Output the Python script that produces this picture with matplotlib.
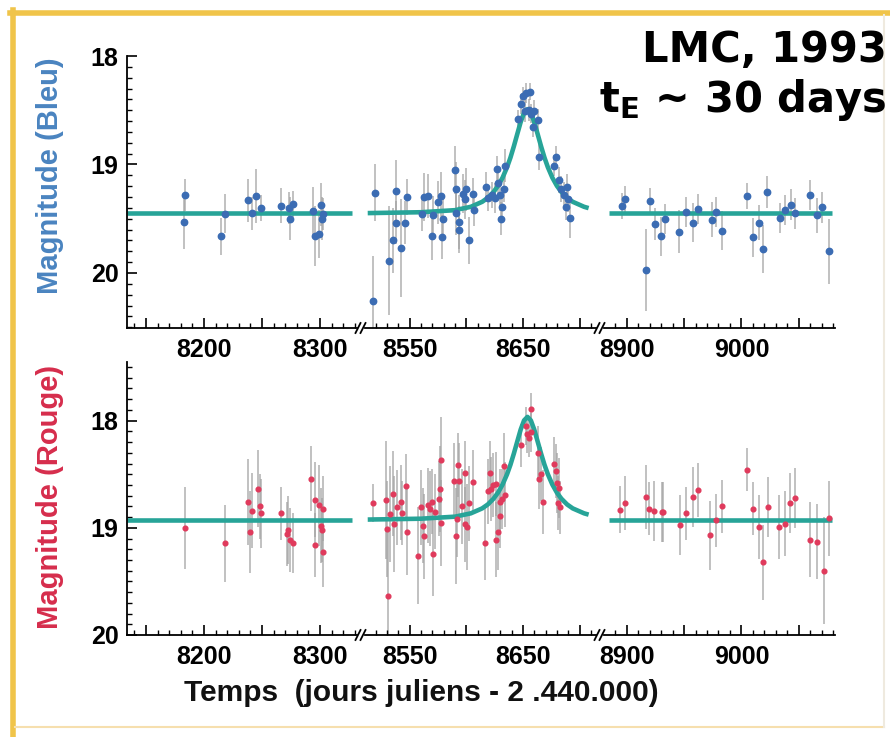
import matplotlib
matplotlib.use("Agg")
import matplotlib.pyplot as plt
from matplotlib.lines import Line2D
from matplotlib.ticker import FixedLocator, MultipleLocator, FuncFormatter

# ---------------- data ----------------
# Blue band observations: day (JD - 2440000), magnitude, error
blue_day = [8184, 8183, 8215, 8218.5, 8238, 8241, 8244.6, 8249, 8266, 8273, 8274.5, 8277,
            8294, 8295.4, 8299, 8300.6, 8302.6, 8302,
            8517.6, 8519, 8532, 8535.5, 8538, 8538.4, 8542.5, 8546, 8547.6, 8561, 8563, 8566.5,
            8569.4, 8571, 8575, 8577.5, 8579, 8579.5, 8590, 8590.6, 8591, 8593.5, 8594, 8597,
            8598.7, 8600, 8602, 8606, 8606.5, 8617, 8619.6, 8622.5, 8625.4, 8627, 8628, 8629.7,
            8630.6, 8631.7, 8633.5, 8634.6, 8645.7, 8648, 8650, 8651.5, 8653, 8656, 8655, 8657,
            8658.7, 8660, 8663, 8664.5, 8677, 8679, 8682, 8684, 8686, 8688.5, 8690, 8691.5, 8687.6,
            8895.7, 8899, 8917, 8920, 8925, 8930, 8933, 8946, 8952, 8958, 8962, 8974, 8978, 8983.5,
            9004.5, 9009.7, 9015, 9019, 9022, 9034, 9037.6, 9043, 9047, 9060, 9066, 9070, 9076]
blue_mag = [19.28, 19.53, 19.66, 19.455, 19.33, 19.45, 19.29, 19.40, 19.38, 19.40, 19.50, 19.36,
            19.43, 19.66, 19.64, 19.37, 19.455, 19.50,
            20.26, 19.26, 19.885, 19.70, 19.24, 19.535, 19.77, 19.535, 19.30, 19.46, 19.30, 19.29,
            19.66, 19.47, 19.35, 19.29, 19.67, 19.50, 19.05, 19.23, 19.45, 19.53, 19.60, 19.27,
            19.32, 19.23, 19.70, 19.27, 19.42, 19.21, 19.31, 19.28, 19.31, 19.04, 19.17, 19.28,
            19.50, 19.39, 19.23, 19.01, 18.58, 18.44, 18.37, 18.51, 18.34, 18.33, 18.50, 18.53,
            18.65, 18.51, 18.59, 18.93, 19.01, 18.93, 19.14, 19.23, 19.28, 19.21, 19.32, 19.495, 19.39,
            19.38, 19.32, 19.97, 19.34, 19.55, 19.66, 19.50, 19.62, 19.44, 19.535, 19.41, 19.51, 19.44, 19.61,
            19.29, 19.67, 19.535, 19.78, 19.255, 19.495, 19.42, 19.37, 19.45, 19.28, 19.47, 19.395, 19.80]
blue_err = [0.15, 0.25, 0.17, 0.18, 0.20, 0.15, 0.25, 0.12, 0.16, 0.15, 0.20, 0.12,
            0.22, 0.28, 0.22, 0.20, 0.15, 0.20,
            0.42, 0.26, 0.50, 0.30, 0.28, 0.20, 0.45, 0.20, 0.17, 0.15, 0.22, 0.20,
            0.22, 0.18, 0.20, 0.22, 0.20, 0.18, 0.22, 0.25, 0.20, 0.25, 0.22, 0.18,
            0.18, 0.20, 0.22, 0.15, 0.15, 0.14, 0.12, 0.12, 0.14, 0.12, 0.15, 0.15,
            0.15, 0.14, 0.12, 0.15, 0.08, 0.09, 0.08, 0.10, 0.09, 0.08, 0.10, 0.09,
            0.10, 0.10, 0.10, 0.12, 0.10, 0.10, 0.12, 0.12, 0.12, 0.12, 0.12, 0.18, 0.12,
            0.12, 0.12, 0.38, 0.12, 0.15, 0.18, 0.14, 0.20, 0.14, 0.18, 0.14, 0.16, 0.14, 0.18,
            0.12, 0.18, 0.16, 0.22, 0.15, 0.14, 0.14, 0.14, 0.14, 0.14, 0.16, 0.14, 0.30]

# Red band observations
red_day = [8184, 8218.5, 8238, 8241, 8240, 8246.6, 8248, 8249, 8266, 8271.6, 8272.8, 8274.5, 8277,
           8292, 8295.4, 8295.9, 8299, 8301, 8302.6, 8301.7, 8302.2,
           8518, 8529, 8530, 8530.5, 8532.6, 8535.5, 8536, 8539, 8542, 8543.6, 8546.5, 8548,
           8557.5, 8560.4, 8561.6, 8563, 8566, 8568, 8570, 8571, 8572.6, 8576, 8576.7, 8577.5,
           8578, 8589, 8590.6, 8591.5, 8593, 8593.5, 8596, 8598.7, 8599, 8601, 8602.8, 8605.7,
           8616.7, 8619.6, 8621, 8622, 8624, 8626, 8626.5, 8627.7, 8629.7, 8630, 8631.7, 8633.5,
           8634, 8648, 8653, 8653.7, 8655, 8657, 8656.7, 8663, 8664.5, 8666, 8667.4, 8677, 8679,
           8680, 8682, 8681, 8683,
           8894, 8899, 8917, 8919.4, 8924, 8931, 8932, 8946.4, 8952, 8958, 8962, 8973, 8978,
           8983.5, 9005, 9010.5, 9015, 9019, 9023, 9033, 9037.6, 9042.5, 9046.7, 9060, 9066,
           9071.5, 9076.7]
red_mag = [19.00, 19.145, 18.76, 18.84, 19.04, 18.635, 18.80, 18.865, 18.865, 19.06, 19.02, 19.115, 19.14,
           18.54, 18.74, 19.16, 18.79, 18.98, 18.82, 19.02, 19.23,
           18.77, 18.74, 19.01, 19.64, 18.87, 18.68, 18.965, 18.81, 18.76, 18.86, 18.61, 19.04,
           19.26, 18.81, 18.98, 19.08, 18.79, 18.82, 18.755, 19.24, 18.85, 18.73, 18.64, 18.955,
           18.37, 18.56, 19.075, 18.92, 18.415, 18.56, 18.80, 18.49, 18.965, 18.99, 18.77, 18.57,
           19.14, 18.66, 18.49, 18.64, 18.60, 18.59, 19.11, 19.04, 18.755, 18.89, 18.73, 18.42,
           18.69, 18.23, 18.05, 18.125, 18.16, 17.89, 18.11, 18.30, 18.54, 18.50, 18.76, 18.40, 18.47,
           18.58, 18.63, 18.77, 18.81,
           18.83, 18.77, 18.71, 18.82, 18.84, 18.855, 18.855, 18.97, 18.865, 18.71, 18.645, 19.07, 18.93,
           18.80, 18.46, 18.82, 18.99, 19.32, 18.81, 18.99, 18.96, 18.77, 18.72, 19.11, 19.13,
           19.40, 18.91]
red_err = [0.38, 0.36, 0.40, 0.35, 0.38, 0.36, 0.30, 0.32, 0.25, 0.30, 0.32, 0.30, 0.28,
           0.30, 0.35, 0.30, 0.38, 0.35, 0.30, 0.30, 0.32,
           0.18, 0.55, 0.45, 0.60, 0.45, 0.40, 0.45, 0.35, 0.35, 0.30, 0.30, 0.40,
           0.45, 0.35, 0.35, 0.40, 0.35, 0.35, 0.30, 0.40, 0.35, 0.35, 0.40, 0.40,
           0.40, 0.35, 0.45, 0.35, 0.30, 0.35, 0.35, 0.30, 0.35, 0.40, 0.35, 0.30,
           0.35, 0.30, 0.30, 0.30, 0.30, 0.30, 0.35, 0.35, 0.30, 0.30, 0.28, 0.30,
           0.30, 0.20, 0.18, 0.18, 0.18, 0.15, 0.18, 0.25, 0.28, 0.25, 0.30, 0.25, 0.25,
           0.28, 0.28, 0.25, 0.25,
           0.22, 0.25, 0.30, 0.25, 0.28, 0.28, 0.28, 0.28, 0.25, 0.28, 0.25, 0.32, 0.25,
           0.25, 0.20, 0.25, 0.30, 0.35, 0.28, 0.30, 0.30, 0.28, 0.28, 0.35, 0.35,
           0.50, 0.35]

# Fitted microlensing light curve
fit_day = [8513, 8560, 8590, 8604, 8614, 8619, 8624, 8628, 8632, 8636, 8639, 8642, 8645, 8648,
           8651, 8654, 8657, 8660, 8663, 8666, 8669, 8672, 8676, 8680, 8684, 8689, 8694, 8704, 8708]
blue_fit = [19.448, 19.440, 19.421, 19.390, 19.344, 19.307, 19.254, 19.197, 19.122, 19.025,
            18.936, 18.832, 18.720, 18.609, 18.523, 18.490, 18.523, 18.609, 18.720, 18.832,
            18.936, 19.025, 19.122, 19.197, 19.254, 19.307, 19.344, 19.390, 19.402]
red_fit = [18.923, 18.915, 18.896, 18.865, 18.819, 18.782, 18.729, 18.672, 18.597, 18.500,
           18.411, 18.307, 18.195, 18.084, 17.998, 17.965, 17.998, 18.084, 18.195, 18.307,
           18.411, 18.500, 18.597, 18.672, 18.729, 18.782, 18.819, 18.865, 18.877]
flat_day_1 = [8134, 8328]
flat_day_3 = [8885, 9079]
blue_base = 19.45
red_base = 18.925

# Axis segments
seg_xlim = [(8133.6, 8331.9), (8510.6, 8714.5), (8880.3, 9081.5)]
seg_major = [[8150, 8200, 8250, 8300], [8550, 8600, 8650, 8700], [8900, 8950, 9000, 9050]]
seg_labels = [[8200, 8300], [8550, 8650], [8900, 9000]]
y_ticks = [18, 19, 20]

# ---------------- figure ----------------
W, H = 890, 737
fig = plt.figure(figsize=(W / 100, H / 100), dpi=100)
fig.patch.set_facecolor("white")

TEAL = "#27a498"
BLUE_PT = "#3b6cb3"
RED_PT = "#e03a5c"
ERR = "#a2a2a2"
TICKFONT = dict(family="Liberation Sans", weight="bold", size=18)

seg_px = [(127, 357), (365, 596), (604, 835)]
rows = [
    dict(top=56, bot=328, ylim=(20.507, 18.0), day=blue_day, mag=blue_mag, err=blue_err,
         fit=blue_fit, base=blue_base, color=BLUE_PT, ms=4.6),
    dict(top=362, bot=635, ylim=(20.0, 17.453), day=red_day, mag=red_mag, err=red_err,
         fit=red_fit, base=red_base, color=RED_PT, ms=3.4),
]


def make_fmt(labels):
    return FuncFormatter(lambda v, p: f"{int(round(v))}" if int(round(v)) in labels else "")


for row in rows:
    for k in range(3):
        x0, x1 = seg_px[k]
        ax = fig.add_axes([x0 / W, 1 - row["bot"] / H, (x1 - x0) / W, (row["bot"] - row["top"]) / H])
        ax.set_xlim(*seg_xlim[k])
        ax.set_ylim(*row["ylim"])
        ax.set_facecolor("none")
        for s in ["top", "right"]:
            ax.spines[s].set_visible(False)
        ax.spines["bottom"].set_linewidth(1.3)
        ax.spines["left"].set_linewidth(1.3)
        ax.errorbar(row["day"], row["mag"], yerr=row["err"], fmt="none", ecolor=ERR,
                    elinewidth=1.1, alpha=0.85, zorder=1)
        if k == 0:
            ax.plot(flat_day_1, [row["base"], row["base"]], color=TEAL, lw=3.3, zorder=2,
                    solid_capstyle="butt")
        elif k == 1:
            ax.plot(fit_day, row["fit"], color=TEAL, lw=3.3, zorder=2, solid_capstyle="butt")
        else:
            ax.plot(flat_day_3, [row["base"], row["base"]], color=TEAL, lw=3.3, zorder=2,
                    solid_capstyle="butt")
        ax.plot(row["day"], row["mag"], "o", ms=row["ms"], color=row["color"],
                mec=row["color"], zorder=3)

        ax.xaxis.set_major_locator(FixedLocator(seg_major[k]))
        ax.xaxis.set_minor_locator(MultipleLocator(10))
        ax.xaxis.set_major_formatter(make_fmt(seg_labels[k]))
        ax.tick_params(axis="x", which="major", direction="in", length=7, width=1.2, pad=7,
                       top=False)
        ax.tick_params(axis="x", which="minor", direction="in", length=3.5, width=1.0, top=False)
        for lab in ax.get_xticklabels():
            lab.set_fontfamily(TICKFONT["family"])
            lab.set_fontweight(TICKFONT["weight"])
            lab.set_fontsize(TICKFONT["size"])

        if k == 0:
            ax.yaxis.set_major_locator(FixedLocator(y_ticks))
            ax.yaxis.set_minor_locator(MultipleLocator(0.1))
            ax.yaxis.set_major_formatter(FuncFormatter(lambda v, p: f"{int(round(v))}"))
            ax.tick_params(axis="y", which="major", direction="in", length=7, width=1.2, pad=6,
                           right=False)
            ax.tick_params(axis="y", which="minor", direction="in", length=3.5, width=1.0,
                           right=False)
            for lab in ax.get_yticklabels():
                lab.set_fontfamily(TICKFONT["family"])
                lab.set_fontweight(TICKFONT["weight"])
                lab.set_fontsize(TICKFONT["size"])
        else:
            ax.spines["left"].set_visible(False)
            ax.tick_params(axis="y", which="both", left=False, right=False, labelleft=False)

    # axis break marks "//"
    for bx, prev_end in ((361, seg_px[0][1]), (600, seg_px[1][1])):
        for dx in (-3, 2):
            fig.add_artist(Line2D([(bx + dx - 2.5) / W, (bx + dx + 2.5) / W],
                                  [1 - (row["bot"] + 5) / H, 1 - (row["bot"] - 5) / H],
                                  color="black", lw=1.3))
        fig.add_artist(Line2D([prev_end / W, (bx - 4) / W],
                              [1 - row["bot"] / H, 1 - row["bot"] / H], color="black", lw=1.3))

# axis labels
fig.text(50 / W, 1 - 176 / H, "Magnitude (Bleu)", rotation=90, ha="center", va="center",
         color="#4a84c0", fontsize=21, fontweight="bold", family="Liberation Sans")
fig.text(50 / W, 1 - 497 / H, "Magnitude (Rouge)", rotation=90, ha="center", va="center",
         color="#d62d4c", fontsize=21, fontweight="bold", family="Liberation Sans")
fig.text(421 / W, 1 - 693 / H, "Temps  (jours juliens - 2 .440.000)", ha="center", va="center",
         color="#111111", fontsize=21.5, fontweight="bold", family="Liberation Sans")

# annotation
fig.text(887 / W, 1 - 62 / H, "LMC, 1993", ha="right", va="baseline", fontsize=30,
         fontweight="bold", family="DejaVu Sans", color="black")
fig.text(886 / W, 1 - 112 / H, r"t$_\mathbf{E}$ ~ 30 days", ha="right", va="baseline",
         fontsize=30, fontweight="bold", family="DejaVu Sans", color="black")

# frame
fig.add_artist(Line2D([12.5 / W, 12.5 / W], [1 - 10 / H, 0], color="#f0c44a", lw=4))
fig.add_artist(Line2D([10 / W, 1], [1 - 12.5 / H, 1 - 12.5 / H], color="#f0c44a", lw=4))
fig.add_artist(Line2D([15 / W, 884 / W], [1 - 727 / H, 1 - 727 / H], color="#f6dfae", lw=1.5))
fig.add_artist(Line2D([884 / W, 884 / W], [1 - 15 / H, 1 - 727 / H], color="#efeadf", lw=1.5))

fig.savefig("out.png", dpi=100, facecolor="white")
